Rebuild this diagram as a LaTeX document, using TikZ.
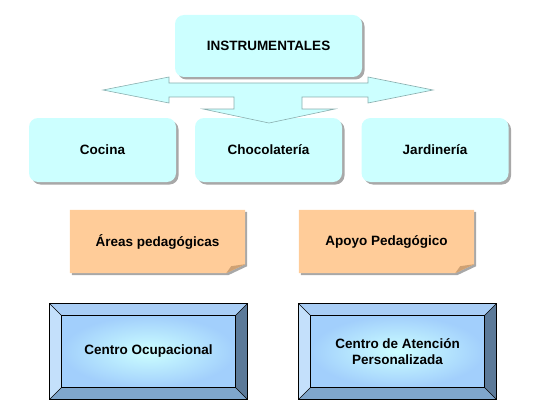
\documentclass[tikz,border=0pt]{standalone}
\usepackage{fontspec}
\setmainfont{Liberation Sans}
\usetikzlibrary{shadows,backgrounds}
\definecolor{cyanfill}{HTML}{CCFFFF}
\definecolor{peach}{HTML}{FFCC99}
\definecolor{peachdark}{HTML}{CFA173}
\definecolor{shadowgray}{HTML}{A8A8A8}
\definecolor{arrowline}{HTML}{8AAFAF}
\definecolor{bevtop}{HTML}{A8CDF5}
\definecolor{bevleft}{HTML}{C4E0FB}
\definecolor{bevright}{HTML}{5C7A99}
\definecolor{bevbottom}{HTML}{7FA6CC}
\definecolor{innerc}{HTML}{CCFFFF}
\definecolor{innero}{HTML}{A2CFFC}
\begin{document}
\begin{tikzpicture}[x=1pt,y=-1pt,
  font=\fontsize{13.5}{16.5}\selectfont\bfseries,
  cyanbox/.style={fill=cyanfill, rounded corners=9pt, minimum width=147pt, minimum height=64pt,
    drop shadow={shadow xshift=2.5pt, shadow yshift=-2.5pt, fill=shadowgray, opacity=1}},
  notebox/.style={minimum width=175pt, minimum height=63pt, inner sep=0pt},
  bevbox/.style={minimum width=197pt, minimum height=95pt, inner sep=0pt, align=center},
  arrowshape/.style={fill=cyanfill, draw=arrowline, line width=0.6pt, line join=miter}
]
\useasboundingbox (0,0) rectangle (553,417);

% top and second row
\node[cyanbox, minimum width=187pt, minimum height=62pt] (instr) at (268.5,46) {INSTRUMENTALES};
\node[cyanbox] (cocina) at (102.5,150) {Cocina};
\node[cyanbox] (choco) at (268.5,150) {Chocolatería};
\node[cyanbox] (jard) at (435,150) {Jardinería};

% block arrow
\draw[arrowshape] (103,90) -- (169,77) -- (169,83) -- (368,83) -- (368,77) -- (433,90)
  -- (368,103) -- (368,97) -- (302,97) -- (302,109) -- (335,109) -- (269,123)
  -- (203,109) -- (234,109) -- (234,97) -- (169,97) -- (169,103) -- cycle;

% notes
\node[notebox] (areas) at (157.5,241.5) {Áreas pedagógicas};
\node[notebox] (apoyo) at (386.5,241.5) {Apoyo Pedagógico};
\begin{scope}[on background layer]
\foreach \n in {areas,apoyo}{
  \fill[shadowgray] ([shift={(2,2)}]\n.north west) -- ([shift={(2,2)}]\n.north east)
    -- ([shift={(2,-7)}]\n.south east) -- ([shift={(-17,2)}]\n.south east)
    -- ([shift={(2,2)}]\n.south west) -- cycle;
  \fill[peach] (\n.north west) -- (\n.north east) -- ([shift={(0,-9)}]\n.south east)
    -- ([shift={(-19,0)}]\n.south east) -- (\n.south west) -- cycle;
  \fill[peachdark] ([shift={(-19,0)}]\n.south east) -- ([shift={(-14,-7)}]\n.south east)
    -- ([shift={(0,-9)}]\n.south east) -- cycle;
}
\end{scope}

% bevel boxes
\node[bevbox] (ocup) at (148.5,351.5) {Centro Ocupacional};
\node[bevbox] (atenc) at (397.5,351.5) {Centro de Atención\\Personalizada};
\begin{scope}[on background layer]
\foreach \n in {ocup,atenc}{
  \coordinate (inw) at ([shift={(12,12)}]\n.north west);
  \coordinate (ine) at ([shift={(-12,12)}]\n.north east);
  \coordinate (ise) at ([shift={(-12,-12)}]\n.south east);
  \coordinate (isw) at ([shift={(12,-12)}]\n.south west);
  \fill[bevtop] (\n.north west) -- (\n.north east) -- (ine) -- (inw) -- cycle;
  \fill[bevleft] (\n.north west) -- (inw) -- (isw) -- (\n.south west) -- cycle;
  \fill[bevright] (\n.north east) -- (\n.south east) -- (ise) -- (ine) -- cycle;
  \fill[bevbottom] (\n.south west) -- (isw) -- (ise) -- (\n.south east) -- cycle;
  \shade[inner color=innerc, outer color=innero] (inw) rectangle (ise);
  \draw[black, line width=0.9pt] (\n.north west) rectangle (\n.south east);
  \draw[black, line width=0.9pt] (inw) rectangle (ise);
  \draw[black, line width=0.6pt] (\n.north west) -- (inw) (\n.north east) -- (ine)
    (\n.south east) -- (ise) (\n.south west) -- (isw);
}
\end{scope}
\end{tikzpicture}
\end{document}
